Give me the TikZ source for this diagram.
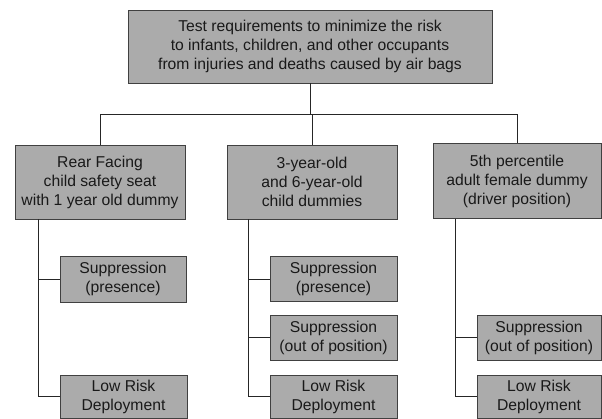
\documentclass[tikz,border=0pt]{standalone}
\usepackage{fontspec}
\setmainfont{Liberation Sans}
\begin{document}
\begin{tikzpicture}[x=1pt,y=-1pt,
  box/.style={draw=black!75, line width=0.8pt, fill=black!33, align=center, inner sep=0pt,
    font=\fontsize{15.7}{19}\selectfont, text=black!90},
  link/.style={draw=black!85, line width=0.9pt}]
\useasboundingbox (0,0) rectangle (602,419);
\node[box, minimum width=364pt, minimum height=73pt] (top) at (310,46.5)
  {Test requirements to minimize the risk\\to infants, children, and other occupants\\from injuries and deaths caused by air bags};
\node[box, minimum width=170pt, minimum height=74pt] (A) at (100,182)
  {Rear Facing\\child safety seat\\with 1 year old dummy};
\node[box, minimum width=170pt, minimum height=74pt] (B) at (312,182)
  {3-year-old\\and 6-year-old\\child dummies};
\node[box, minimum width=168pt, minimum height=75pt] (C) at (517,181)
  {5th percentile\\adult female dummy\\(driver position)};
\node[box, minimum width=126pt, minimum height=46pt] (A1) at (123,279) {Suppression\\(presence)};
\node[box, minimum width=127pt, minimum height=43pt] (A2) at (123.5,396.5) {Low Risk\\Deployment};
\node[box, minimum width=127pt, minimum height=45pt] (B1) at (333.5,279) {Suppression\\(presence)};
\node[box, minimum width=127pt, minimum height=45pt] (B2) at (333.5,337.5) {Suppression\\(out of position)};
\node[box, minimum width=127pt, minimum height=43pt] (B3) at (333.5,396.5) {Low Risk\\Deployment};
\node[box, minimum width=124pt, minimum height=45pt] (C1) at (539,337.5) {Suppression\\(out of position)};
\node[box, minimum width=124pt, minimum height=43pt] (C2) at (539,396.5) {Low Risk\\Deployment};
\coordinate (bus) at (0,114);
\coordinate (sa) at (38,0);
\coordinate (sb) at (248,0);
\coordinate (sc) at (455,0);
\draw[link] (top.south) -- (top.south |- bus);
\draw[link] (A.north) -- (A.north |- bus) -- (C.north |- bus) -- (C.north);
\draw[link] (B.north) -- (B.north |- bus);
\draw[link] (sa |- A.south) |- (A2.west);
\draw[link] (sa |- A1.west) -- (A1.west);
\draw[link] (sb |- B.south) |- (B3.west);
\draw[link] (sb |- B1.west) -- (B1.west);
\draw[link] (sb |- B2.west) -- (B2.west);
\draw[link] (sc |- C.south) |- (C2.west);
\draw[link] (sc |- C1.west) -- (C1.west);
\end{tikzpicture}
\end{document}
